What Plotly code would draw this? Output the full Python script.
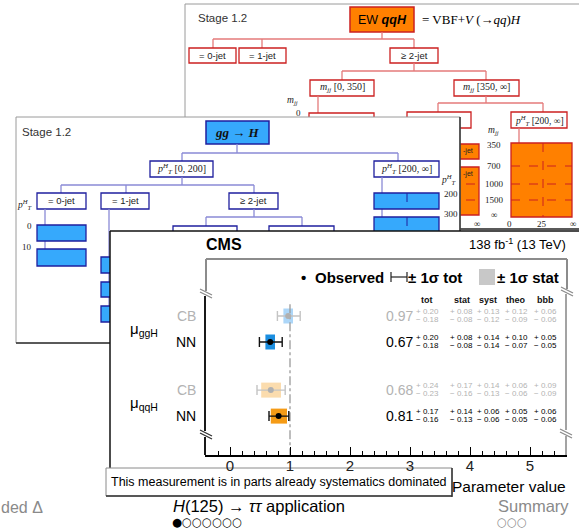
import plotly.graph_objects as go

# ---------------- data ----------------
param_labels = ["ggH", "qqH"]
methods = ["CB", "NN", "CB", "NN"]
values = [0.97, 0.67, 0.68, 0.81]
tot_up = [0.20, 0.20, 0.24, 0.17]
tot_dn = [0.18, 0.18, 0.23, 0.16]
stat_up = [0.08, 0.08, 0.17, 0.14]
stat_dn = [0.08, 0.08, 0.16, 0.13]
syst_up = [0.13, 0.14, 0.14, 0.06]
syst_dn = [0.12, 0.14, 0.13, 0.06]
theo_up = [0.12, 0.10, 0.06, 0.05]
theo_dn = [0.09, 0.07, 0.06, 0.05]
bbb_up = [0.06, 0.05, 0.09, 0.06]
bbb_dn = [0.06, 0.05, 0.09, 0.06]
col_names = ["tot", "stat", "syst", "theo", "bbb"]
x_tick_vals = [0, 1, 2, 3, 4, 5]
sm_value = 1.0

# ---------------- layout helpers ----------------
W, H = 579, 528
SANS = "Liberation Sans"
SERIF = "Liberation Serif"


def X(px):
    return px / W


def Y(py):
    return 1 - py / H


shapes = []
anns = []


def rect(x0, y0, x1, y1, fill="white", line="black", lw=1.0, dash=None):
    d = dict(type="rect", xref="paper", yref="paper", x0=X(x0), x1=X(x1),
             y0=Y(y0), y1=Y(y1), fillcolor=fill, layer="below",
             line=dict(color=line, width=lw))
    if dash:
        d["line"]["dash"] = dash
    if lw == 0:
        d["line"] = dict(width=0)
    shapes.append(d)


def seg(x0, y0, x1, y1, color="black", lw=1.0, dash=None):
    d = dict(type="line", xref="paper", yref="paper", x0=X(x0), x1=X(x1),
             y0=Y(y0), y1=Y(y1), layer="below", line=dict(color=color, width=lw))
    if dash:
        d["line"]["dash"] = dash
    shapes.append(d)


def txt(x, y, text, size=10, color="black", family=SANS, xa="center", ya="middle"):
    anns.append(dict(x=X(x), y=Y(y), xref="paper", yref="paper", text=text,
                     showarrow=False, xanchor=xa, yanchor=ya, borderpad=0,
                     font=dict(size=size, color=color, family=family)))


PT = "<i>p</i><sup><i>H</i></sup><sub><i>T</i></sub>"
MJJ = "<i>m<sub>jj</sub></i>"

# ================= panel 1 : EW qqH tree (orange) =================
RED = "#cc2020"
REDL = "#e47a7a"
OR = "#ff8000"
rect(185, 4, 620, 229, fill="white", line="#9a9a9a", lw=1)
seg(185, 229, 620, 229, "#333333", 1.5)
txt(197, 18, "Stage 1.2", 11.5, "#333", SANS, xa="left")
rect(350, 7, 414, 32, fill=OR, line=RED, lw=1.5)
txt(382, 20, "EW <b><i>qqH</i></b>", 12.5, "black", SANS)
txt(421, 20, "= VBF+<i>V</i> (→<i>qq</i>)<i>H</i>", 13, "black", SERIF, xa="left")
seg(382, 32, 382, 39, REDL, 1.3)
seg(213, 39, 414, 39, REDL, 1.3)
for xx in (213, 262, 414):
    seg(xx, 39, xx, 48, REDL, 1.3)
for (a, b, t) in ((189, 236, "= 0-jet"), (239, 286, "= 1-jet"), (390, 438, "≥ 2-jet")):
    rect(a, 48, b, 63, line=RED, lw=1.3)
    txt((a + b) / 2, 55.5, t, 9.5, "#222", SANS)
seg(414, 63, 414, 71, REDL, 1.3)
seg(342, 71, 486, 71, REDL, 1.3)
seg(342, 71, 342, 80, REDL, 1.3)
seg(486, 71, 486, 80, REDL, 1.3)
rect(310, 80, 374, 96, line=RED, lw=1.3)
txt(342, 88, MJJ + " [0, 350]", 10, "#222", SERIF)
rect(454, 80, 519, 96, line=RED, lw=1.3)
txt(486.5, 88, MJJ + " [350, ∞]", 10, "#222", SERIF)
txt(292, 100, MJJ, 9.5, "#222", SERIF)
txt(298, 113, "0", 9, "#222", SERIF)
seg(318, 96, 318, 113, REDL, 1.3)
rect(309, 113, 374, 132, line=RED, lw=1.3)
seg(486, 96, 486, 103, REDL, 1.3)
seg(438, 103, 543, 103, REDL, 1.3)
seg(438, 103, 438, 112, REDL, 1.3)
seg(543, 103, 543, 112, REDL, 1.3)
rect(407, 112, 471, 128, line=RED, lw=1.3)
rect(511, 112, 567, 128, line=RED, lw=1.3)
txt(539, 120, PT + " [200, ∞]", 9.5, "#222", SERIF)
seg(519, 128, 519, 143, REDL, 1.3)
rect(511, 143, 572, 217, fill=OR, line=RED, lw=1.3)
seg(543, 143, 543, 217, RED, 1, "dash")
for yy in (166, 184, 200):
    seg(511, yy, 572, yy, RED, 1, "dash")
rect(430, 144, 479, 159, fill=OR, line=RED, lw=1.3)
rect(430, 167, 479, 215, fill=OR, line=RED, lw=1.3)
for yy in (184, 200):
    seg(430, yy, 479, yy, RED, 1, "dash")
txt(468, 151, "-jet", 7, "#222", SANS)
txt(468, 174, "-jet", 7, "#222", SANS)
txt(493, 131, MJJ, 9.5, "#222", SERIF)
for yy, t in ((145, "350"), (166, "700"), (184, "1000"), (200, "1500"), (215, "∞")):
    txt(494, yy, t, 9, "#222", SERIF)
for xx, t in ((477, "∞"), (509, "0"), (542, "25"), (573, "∞")):
    txt(xx, 224, t, 9, "#222", SERIF)

# ================= panel 2 : gg -> H tree (blue) =================
BL = "#36a9fc"
BLD = "#1f1f9e"
BLL = "#8a8ad6"
rect(16, 117, 460, 343, fill="white", line="#9a9a9a", lw=1)
seg(460, 117, 460, 343, "#333333", 1.5)
seg(16, 343, 460, 343, "#333333", 1.5)
txt(21, 132, "Stage 1.2", 11.5, "#333", SANS, xa="left")
rect(206, 121, 269, 144, fill=BL, line=BLD, lw=1.5)
txt(237.5, 132.5, "<b><i>gg</i> → <i>H</i></b>", 13, "#111", SERIF)
seg(237, 144, 237, 153, BLL, 1.3)
seg(182, 153, 398, 153, BLL, 1.3)
seg(182, 153, 182, 161, BLL, 1.3)
seg(398, 153, 398, 161, BLL, 1.3)
rect(150, 161, 213, 177, line=BLD, lw=1.3)
txt(181.5, 169, PT + " [0, 200]", 10, "#222", SERIF)
rect(374, 161, 439, 177, line=BLD, lw=1.3)
txt(406.5, 169, PT + " [200, ∞]", 10, "#222", SERIF)
seg(182, 177, 182, 185, BLL, 1.3)
seg(61, 185, 254, 185, BLL, 1.3)
for xx in (61, 126, 254):
    seg(xx, 185, xx, 193, BLL, 1.3)
for (a, b, t) in ((37, 86, "= 0-jet"), (101, 149, "= 1-jet"), (229, 278, "≥ 2-jet")):
    rect(a, 193, b, 209, line=BLD, lw=1.3)
    txt((a + b) / 2, 201, t, 9.5, "#222", SANS)
seg(254, 209, 254, 217, BLL, 1.3)
seg(206, 217, 302, 217, BLL, 1.3)
seg(206, 217, 206, 226, BLL, 1.3)
seg(302, 217, 302, 226, BLL, 1.3)
rect(173, 226, 237, 242, line=BLD, lw=1.3)
rect(269, 226, 334, 242, line=BLD, lw=1.3)
seg(45, 209, 45, 249, BLL, 1.3)
rect(37, 225, 86, 241, fill=BL, line=BLD, lw=1.3)
rect(37, 249, 86, 266, fill=BL, line=BLD, lw=1.3)
txt(25, 204, PT, 9.5, "#222", SERIF)
txt(29, 226, "0", 9, "#222", SERIF)
txt(27, 247, "10", 9, "#222", SERIF)
seg(109, 209, 109, 306, BLL, 1.3)
for (a, b) in ((257, 273), (282, 297), (306, 322)):
    rect(101, a, 140, b, fill=BL, line=BLD, lw=1.3)
seg(382, 177, 382, 217, BLL, 1.3)
rect(374, 193, 439, 209, fill=BL, line=BLD, lw=1.3)
rect(374, 217, 439, 245, fill=BL, line=BLD, lw=1.3)
seg(407, 193, 407, 209, BLD, 1, "dash")
seg(407, 217, 407, 245, BLD, 1, "dash")
txt(449, 180, PT, 9.5, "#222", SERIF)
txt(451, 194, "200", 9, "#222", SERIF)
txt(451, 214, "300", 9, "#222", SERIF)

# ================= panel 3 : CMS result =================
rect(110, 231, 640, 497, fill="white", line="white", lw=0)
seg(110, 231, 640, 231, "#111", 1.5)
seg(110, 231, 110, 468, "#111", 1.5)
txt(205, 244, "<b>CMS</b>", 16, "black", SANS, xa="left")
txt(567, 244, "138 fb<sup>-1</sup> (13 TeV)", 13, "black", SANS, xa="right")

# frame of the plot area
FR = "#8c8c8c"
seg(206, 259, 567, 259, FR, 2)
seg(206, 259, 206, 291, FR, 2)
seg(567, 259, 567, 289, FR, 2)
seg(205, 296, 205, 431, "black", 1.8)
seg(205, 437, 205, 455, "black", 1.8)
seg(566, 294, 566, 430, FR, 1.6)
seg(566, 436, 566, 455, FR, 1.6)
for (bx, by, c) in ((206, 293, FR), (206, 434, "#333"), (567, 291, FR), (566, 433, FR)):
    seg(bx - 6, by - 4, bx + 6, by + 2, c, 1.3)
    seg(bx - 6, by - 1, bx + 6, by + 5, c, 1.3)

# legend
txt(303, 277, "<b>•</b>", 15, "black", SANS)
txt(314, 277, "<b>Observed</b>", 15, "black", SANS, xa="left")
seg(391, 277, 407, 277, "#222", 1.2)
seg(391, 272, 391, 282, "#222", 1.2)
seg(407, 272, 407, 282, "#222", 1.2)
txt(407, 277, "<b>± 1σ tot</b>", 15, "black", SANS, xa="left")
rect(479, 269, 495, 285, fill="#c8c8c8", line="#c8c8c8", lw=0)
txt(496, 277, "<b>± 1σ stat</b>", 15, "black", SANS, xa="left")

# column headers + numbers
col_x = [427, 462, 488, 516, 545]
for cx, name in zip(col_x, col_names):
    txt(cx, 300, "<b>%s</b>" % name, 9, "#111", SANS)

row_pos = [0, 1, 2.85, 3.85]
ROW0, UNIT = 316, 26.0


def row_px(r):
    return ROW0 + UNIT * r


GRAY = "#b3b3b3"
for i in range(4):
    py = row_px(row_pos[i])
    c = GRAY if methods[i] == "CB" else "black"
    txt(197, py, methods[i], 14, c, SANS, xa="right")
    txt(414, py, "%.2f" % values[i], 14, c, SANS, xa="right")
    ups = [tot_up[i], stat_up[i], syst_up[i], theo_up[i], bbb_up[i]]
    dns = [tot_dn[i], stat_dn[i], syst_dn[i], theo_dn[i], bbb_dn[i]]
    for cx, u, d in zip(col_x, ups, dns):
        txt(cx, py - 4.5, "+ %.2f" % u, 8, c, SANS)
        txt(cx, py + 3.5, "− %.2f" % d, 8, c, SANS)

for k, p in enumerate(param_labels):
    py = (row_px(row_pos[2 * k]) + row_px(row_pos[2 * k + 1])) / 2
    txt(129, py, "μ<sub>%s</sub>" % p, 15, "black", SANS, xa="left")

txt(567, 486, "Parameter value", 15.5, "black", SANS, xa="right")

# caption box
rect(106, 468, 452, 496, fill="white", line="#8a8a8a", lw=1)
seg(452, 468, 452, 497, "#333", 1.5)
seg(106, 496, 452, 496, "#333", 1.5)
txt(279, 482, "This measurement is in parts already systematics dominated", 12.5, "black", SANS)

# footer
txt(0, 507, "ded Δ", 16, "#8a8a8a", SANS, xa="left")
txt(172, 506, "<i>H</i>(125) → <i>ττ</i> application", 16.5, "black", SANS, xa="left")
txt(171, 521.5, "●○○○○○○", 11.5, "black", "DejaVu Sans", xa="left")
txt(497, 506, "Summary", 16.5, "#8a8a8a", SANS, xa="left")
txt(496, 521.5, "○○○", 11.5, "#8a8a8a", "DejaVu Sans", xa="left")

# ---------------- traces (through axes) ----------------
y_top = (259 - ROW0) / UNIT
y_bot = (455 - ROW0) / UNIT
fig = go.Figure()

fig.add_trace(go.Scatter(x=[sm_value, sm_value], y=[-0.45, y_bot], mode="lines",
                         line=dict(color="#9a9a9a", width=1.3, dash="dashdot"),
                         hoverinfo="skip", showlegend=False))

bar_colors = ["#acd6f8", "#1b8ee0", "#fbdcae", "#f59b16"]
fig.add_trace(go.Bar(
    y=row_pos, x=[u + d for u, d in zip(stat_up, stat_dn)],
    base=[v - d for v, d in zip(values, stat_dn)], orientation="h",
    width=15 / UNIT, marker=dict(color=bar_colors, line=dict(width=0)),
    hoverinfo="skip", showlegend=False))

for meth, pc, ec in (("CB", "#b0b0b0", "#c4c4c4"), ("NN", "black", "#111")):
    idx = [i for i in range(4) if methods[i] == meth]
    fig.add_trace(go.Scatter(
        x=[values[i] for i in idx], y=[row_pos[i] for i in idx], mode="markers",
        marker=dict(color=pc, size=6),
        error_x=dict(type="data", symmetric=False,
                     array=[tot_up[i] for i in idx], arrayminus=[tot_dn[i] for i in idx],
                     color=ec, thickness=1.4, width=5),
        hoverinfo="skip", showlegend=False))

fig.update_layout(
    width=W, height=H, autosize=False,
    margin=dict(l=0, r=0, t=0, b=0),
    paper_bgcolor="white", plot_bgcolor="rgba(0,0,0,0)",
    barmode="overlay", showlegend=False,
    shapes=shapes, annotations=anns,
    xaxis=dict(domain=[X(205), X(567)], range=[(205 - 230) / 60, (567 - 230) / 60],
               showline=True, linecolor="black", linewidth=1.8,
               ticks="inside", ticklen=8, tickwidth=1, tickcolor="black",
               tickmode="array", tickvals=x_tick_vals, ticktext=[str(t) for t in x_tick_vals],
               ticklabelstandoff=-4,
               minor=dict(dtick=0.2, tick0=0, ticks="inside", ticklen=4, tickcolor="black",
                          tickwidth=1, showgrid=False),
               showgrid=False, zeroline=False, fixedrange=True,
               tickfont=dict(size=15, color="#222", family=SANS)),
    yaxis=dict(domain=[Y(455), Y(259)], range=[y_bot, y_top], visible=False,
               fixedrange=True),
)

fig.write_html("out.html", config={"displayModeBar": False})
